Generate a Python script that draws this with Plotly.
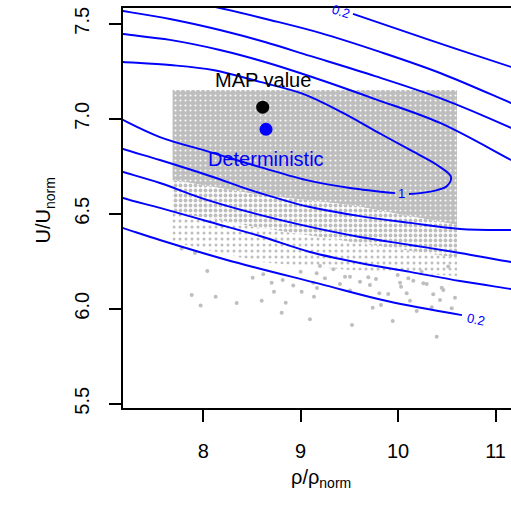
import plotly.graph_objects as go

# ---------------- data ----------------
# contour lines (levels 0.2 ... 1.0) (x = rho/rho_norm, y = U/U_norm)
c02_up_x = [8.993, 9.291, None, 9.537, 10.328, 11.159, 11.354]
c02_up_y = [7.643, 7.589, None, 7.552, 7.414, 7.273, 7.241]
c04_up_x = [7.915, 8.171, 8.685, 9.198, 9.814, 10.431, 11.159, 11.354]
c04_up_y = [7.609, 7.583, 7.520, 7.452, 7.352, 7.241, 7.083, 7.041]
c06_up_x = [7.042, 7.176, 7.658, 8.171, 8.633, 9.096, 9.763, 10.431, 11.159, 11.354]
c06_up_y = [7.578, 7.567, 7.525, 7.467, 7.404, 7.331, 7.225, 7.109, 6.952, 6.904]
c08_up_x = [7.042, 7.176, 7.658, 8.171, 8.633, 9.117, 9.763, 10.431, 11.159, 11.354]
c08_up_y = [7.457, 7.446, 7.415, 7.362, 7.299, 7.220, 7.104, 6.978, 6.783, 6.731]
c10_x = [7.042, 7.176, 7.658, 8.100, 8.582, 9.024, 9.434, 9.783, 10.123, 10.400, 10.543,
         10.502, 10.400, 10.225, 10.112, None, 9.968, 9.506, 9.096, 8.582, 8.069, 7.555, 7.176, 7.042]
c10_y = [7.304, 7.299, 7.283, 7.257, 7.194, 7.131, 7.031, 6.931, 6.836, 6.757, 6.694,
         6.646, 6.625, 6.609, 6.604, None, 6.609, 6.636, 6.673, 6.746, 6.825, 6.904, 6.994, 7.031]
c08_lo_x = [7.042, 7.176, 7.555, 8.069, 8.479, 8.818, 9.096, 9.609, 10.123, 10.636, 11.159, 11.354]
c08_lo_y = [6.867, 6.841, 6.783, 6.699, 6.626, 6.573, 6.536, 6.488, 6.452, 6.420, 6.415, 6.418]
c06_lo_x = [7.042, 7.176, 7.555, 8.038, 8.582, 9.096, 9.609, 10.123, 10.636, 11.159, 11.354]
c06_lo_y = [6.741, 6.720, 6.662, 6.573, 6.494, 6.431, 6.378, 6.336, 6.294, 6.246, 6.231]
c04_lo_x = [7.042, 7.176, 7.555, 8.069, 8.582, 9.096, 9.609, 10.123, 10.636, 11.159, 11.354]
c04_lo_y = [6.611, 6.583, 6.531, 6.457, 6.383, 6.299, 6.241, 6.194, 6.146, 6.104, 6.088]
c02_lo_x = [7.042, 7.176, 7.555, 8.243, 9.198, 9.886, 10.656]
c02_lo_y = [6.446, 6.425, 6.362, 6.257, 6.131, 6.041, 5.967]

# contour labels
lab_text = ["0.2", "1", "0.2"]
lab_x = [9.413, 10.040, 10.796]
lab_y = [7.567, 6.609, 5.946]
lab_angle = [18, 0, 12]

# posterior sample cloud: density bands (x edges, top, band boundaries)
cloud_x = [7.685, 8.582, 9.506, 10.605]
cloud_top = 7.152
band1_y = [6.678, 6.599, 6.546, 6.441]   # bottom of dense core
band2_y = [6.509, 6.425, 6.352, 6.267]   # bottom of medium band
band3_y = [6.352, 6.246, 6.204, 6.173]   # bottom of sparse band

# individual sparse samples in the lower tail
tail_x = [8.041, 7.881, 7.973, 8.127, 8.343, 8.507, 8.616, 8.600, 8.726, 8.702, 8.815, 8.805,
          8.846, 8.924, 9.010, 9.000, 9.095, 9.137, 9.129, 9.164, 9.198, 9.249, 9.335, 9.403,
          9.455, 9.506, 9.527, 9.609, 9.694, 9.711, 9.739, 9.773, 9.807, 9.824, 9.899, 9.945,
          9.996, 10.020, 10.030, 10.088, 10.105, 10.156, 10.191, 10.242, 10.259, 10.294, 10.345,
          10.361, 10.396, 10.430, 10.448, 10.464, 10.515, 10.550, 10.584, 9.506, 10.122, 9.167,
          7.778, 7.915]
tail_y = [6.199, 6.073, 6.018, 6.064, 6.031, 6.164, 6.182, 6.043, 6.090, 6.137, 6.152, 5.979,
          6.032, 6.122, 6.090, 6.195, 5.945, 6.064, 6.137, 6.187, 6.225, 6.161, 6.208, 6.131,
          6.169, 6.169, 5.915, 6.143, 6.166, 6.125, 6.006, 6.157, 6.082, 6.020, 6.078, 5.936,
          6.178, 6.137, 6.116, 6.082, 6.161, 6.148, 5.988, 6.195, 6.134, 6.131, 6.008,
          6.076, 5.853, 6.046, 6.111, 6.099, 6.222, 6.003, 6.058, 6.096, 6.043, 6.109,
          6.318, 6.294]

map_pt = (8.610, 7.061)
det_pt = (8.644, 6.945)

x_ticks = [8, 9, 10, 11]
y_ticks = [5.5, 6.0, 6.5, 7.0, 7.5]
y_ticktext = ["5.5", "6.0", "6.5", "7.0", "7.5"]

# ---------------- figure ----------------
FONT = "Liberation Sans, Arial, Helvetica, sans-serif"
GREY = "#BEBEBE"
BLUE = "#0000FF"

fig = go.Figure()

def band(top, bottom):
    xs = list(cloud_x) + list(reversed(cloud_x)) + [cloud_x[0]]
    ys = list(top) + list(reversed(bottom)) + [top[0]]
    return xs, ys

xa, ya = band([cloud_top] * 4, band1_y)
fig.add_trace(go.Scatter(x=xa, y=ya, mode="lines", fill="toself", line=dict(width=0),
                         fillpattern=dict(shape=".", fgcolor="white", bgcolor=GREY,
                                          size=5, solidity=0.13, fillmode="replace"),
                         hoverinfo="skip", showlegend=False))
xb, yb = band(band1_y, band2_y)
fig.add_trace(go.Scatter(x=xb, y=yb, mode="lines", fill="toself", line=dict(width=0),
                         fillpattern=dict(shape=".", fgcolor=GREY, bgcolor="white",
                                          size=5, solidity=0.45, fillmode="replace"),
                         hoverinfo="skip", showlegend=False))
xc, yc = band(band2_y, band3_y)
fig.add_trace(go.Scatter(x=xc, y=yc, mode="lines", fill="toself", line=dict(width=0),
                         fillpattern=dict(shape=".", fgcolor=GREY, bgcolor="white",
                                          size=6, solidity=0.2, fillmode="replace"),
                         hoverinfo="skip", showlegend=False))
fig.add_trace(go.Scatter(x=tail_x, y=tail_y, mode="markers",
                         marker=dict(color=GREY, size=4, line=dict(width=0)),
                         showlegend=False))

for cx, cy in [(c02_up_x, c02_up_y), (c04_up_x, c04_up_y), (c06_up_x, c06_up_y),
               (c08_up_x, c08_up_y), (c10_x, c10_y), (c08_lo_x, c08_lo_y),
               (c06_lo_x, c06_lo_y), (c04_lo_x, c04_lo_y), (c02_lo_x, c02_lo_y)]:
    fig.add_trace(go.Scatter(x=cx, y=cy, mode="lines",
                             line=dict(color=BLUE, width=1.9, shape="spline", smoothing=1.0),
                             connectgaps=False, showlegend=False))

fig.add_trace(go.Scatter(x=[map_pt[0]], y=[map_pt[1]], mode="markers",
                         marker=dict(color="black", size=13), showlegend=False))
fig.add_trace(go.Scatter(x=[det_pt[0]], y=[det_pt[1]], mode="markers",
                         marker=dict(color=BLUE, size=13), showlegend=False))

annotations = []
for t, x, y, a in zip(lab_text, lab_x, lab_y, lab_angle):
    annotations.append(dict(x=x, y=y, xref="x", yref="y", text=t, showarrow=False,
                            textangle=a, font=dict(family=FONT, size=13, color=BLUE)))
annotations.append(dict(x=map_pt[0], y=7.204, xref="x", yref="y", text="MAP value",
                        showarrow=False, font=dict(family=FONT, size=20, color="black")))
annotations.append(dict(x=det_pt[0], y=6.788, xref="x", yref="y", text="Deterministic",
                        showarrow=False, font=dict(family=FONT, size=20, color=BLUE)))
annotations.append(dict(x=0.510, y=-0.2125, xref="paper", yref="paper",
                        text="ρ/ρ<sub>norm</sub>", showarrow=False,
                        font=dict(family=FONT, size=20, color="black")))
annotations.append(dict(x=-0.2397, y=0.495, xref="paper", yref="paper",
                        text="U/U<sub>norm</sub>", showarrow=False, textangle=-90,
                        font=dict(family=FONT, size=20, color="black")))

fig.update_layout(
    width=511, height=509,
    margin=dict(l=123, r=0, t=8, b=101),
    paper_bgcolor="white", plot_bgcolor="white",
    annotations=annotations,
    xaxis=dict(range=[7.176, 11.159], tickvals=x_ticks, ticks="outside", ticklen=12,
               tickwidth=1.5, tickcolor="black", showline=True, linewidth=1.5,
               linecolor="black", mirror=True, showgrid=False, zeroline=False,
               tickfont=dict(family=FONT, size=20, color="black"), ticklabelstandoff=12),
    yaxis=dict(range=[5.478, 7.583], tickvals=y_ticks, ticktext=y_ticktext, tickangle=-90,
               ticks="outside", ticklen=12, tickwidth=1.5, tickcolor="black",
               showline=True, linewidth=1.5, linecolor="black", showgrid=False,
               zeroline=False, tickfont=dict(family=FONT, size=20, color="black"),
               ticklabelstandoff=12),
)

fig.write_html("out.html")
